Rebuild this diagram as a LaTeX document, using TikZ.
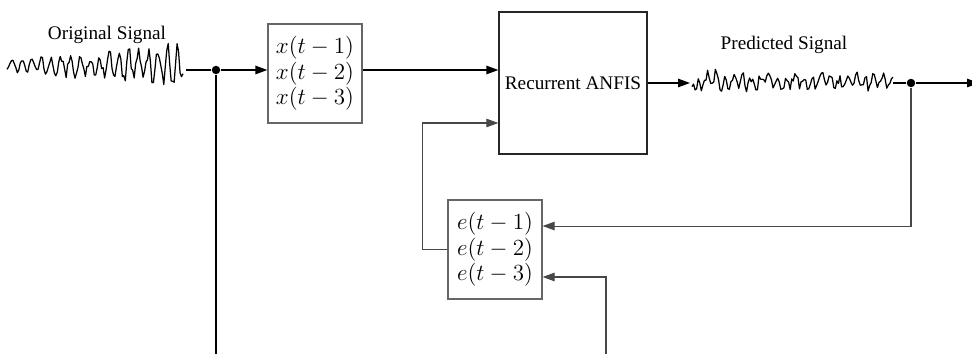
\documentclass[tikz,border=0pt]{standalone}
\usepackage{fontspec}
\setmainfont{Liberation Serif}
\usetikzlibrary{arrows.meta,positioning}

\tikzset{
  tap/.style={draw=black!60, minimum width=48.9pt, minimum height=51.5pt, inner sep=0pt,
    align=center, font=\fontsize{11.5}{13.3}\selectfont},
  flow/.style={-{Triangle[length=6.2pt,width=4.4pt]}},
  feed/.style={draw=black!72, line width=0.55pt},
  junct/.style={circle, fill, inner sep=0pt, minimum size=4.4pt},
  trace/.style={line width=0.65pt, line join=round},
}

\begin{document}
\begin{tikzpicture}[x=0.52pt, y=-0.52pt, line width=0.65pt]
\useasboundingbox (0,0) rectangle (972,354);
\pgfmathsetseed{41}

% noisy signals
\draw[trace] plot[domain=7:183, samples=120, variable=\t]
  (\t, {66 - (5+15*(\t-7)/176)*(0.8*sin(37*\t)+0.45*rand)});
\draw[trace] plot[domain=0:201, samples=130, variable=\t]
  (692+\t, {82 + 5.5*sin(41*\t) + 3.5*sin(13*\t) + 5.5*rand});

\node (origlbl) at (107,35) {Original Signal};
\node (predlbl) at (784,45) {Predicted Signal};

\node[tap] (xtap) at (315,73.5) {$x(t-1)$\\$x(t-2)$\\$x(t-3)$};
\node[draw=black!85, minimum width=77pt, minimum height=73.8pt, inner sep=0pt]
  (anfis) at (573,83) {Recurrent ANFIS};
\node[tap] (etap) at (495,249.5) {$e(t-1)$\\$e(t-2)$\\$e(t-3)$};

\node[junct] (j1) at (216,70) {};
\node[junct] (j2) at (911,83) {};

\coordinate (origend) at (186,70);
\coordinate (predin) at (690,83);
\coordinate (predend) at (893,83);
\coordinate (out) at (979,83);
\coordinate (xdown) at (216,360);
\coordinate (ein) at (606,360);

\draw (origend) -- (j1) -- (xdown);
\draw[flow] (j1) -- (xtap.west |- j1);
\draw[flow] (xtap.east |- j1) -- (anfis.west |- j1);
\draw[flow] (anfis.east) -- (predin);
\draw (predend) -- (j2);
\draw[flow] (j2) -- (out);

% error taps
\draw[feed,flow] (j2) |- ([yshift=12.2pt]etap.east);
\draw[feed,flow] (ein) |- ([yshift=-14.3pt]etap.east);
\draw[feed,flow] (etap.west) -- ++(-25,0) |- ([yshift=-20.8pt]anfis.west);
\end{tikzpicture}
\end{document}
